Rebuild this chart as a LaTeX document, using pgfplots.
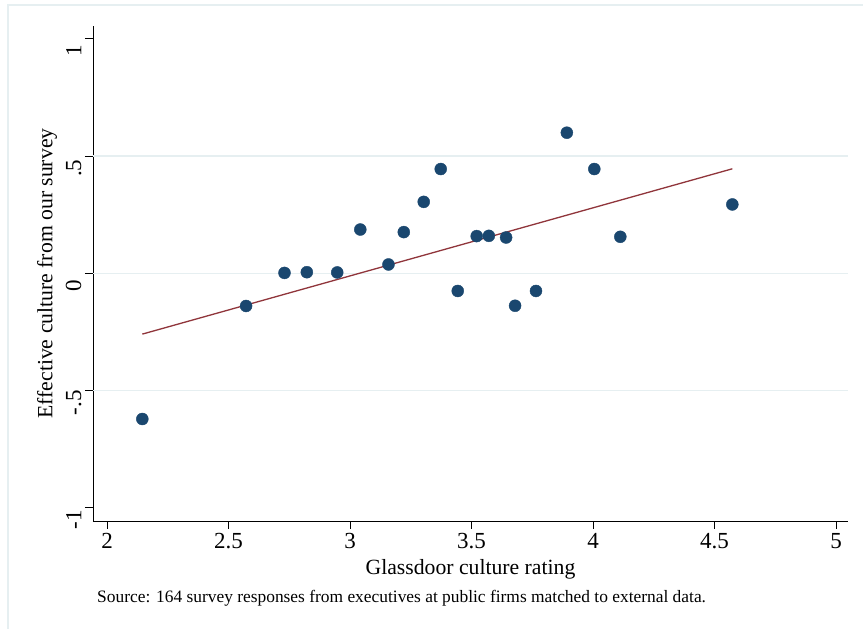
\documentclass[border=0pt]{standalone}
\usepackage{pgfplots}
\pgfplotsset{compat=1.18}
\usepackage{fontspec}
\setmainfont{Liberation Serif}
\definecolor{stnavy}{HTML}{1A476F}
\definecolor{stmaroon}{HTML}{90353B}
\definecolor{gridc}{HTML}{E6EFF1}
\begin{document}
\begin{tikzpicture}[x=1pt,y=1pt]
\useasboundingbox (0,0) rectangle (863,629);
\fill[white] (0,0) rectangle (863,629);
\draw[gridc, line width=1.2pt] (8,0) -- (8,624) -- (863,624);
\begin{axis}[
  at={(93pt,108pt)}, anchor=south west,
  scale only axis, width=755pt, height=495pt,
  xmin=1.942, xmax=5.049, ymin=-1.056, ymax=1.055,
  axis x line*=bottom, axis y line*=left,
  axis line style={black, line width=0.9pt},
  tick align=outside, major tick length=8pt,
  tick style={black, line width=0.9pt},
  xtick={2,2.5,3,3.5,4,4.5,5},
  xticklabels={2,2.5,3,3.5,4,4.5,5},
  ytick={-1,-0.5,0,0.5,1},
  yticklabels={-1,-.5,0,.5,1},
  ticklabel style={font=\fontsize{23}{25}\selectfont},
  yticklabel style={rotate=90, anchor=south, xshift=-12pt},
  xticklabel style={yshift=-1pt},
  xlabel={Glassdoor culture rating},
  ylabel={Effective culture from our survey},
  label style={font=\fontsize{21.7}{24}\selectfont},
  xlabel style={yshift=-3pt},
  ylabel style={yshift=2pt},
  clip=false,
]
\draw[gridc, line width=1.3pt] (axis cs:1.942,0.5) -- (axis cs:5.049,0.5);
\draw[gridc, line width=1.3pt] (axis cs:1.942,0) -- (axis cs:5.049,0);
\draw[gridc, line width=1.3pt] (axis cs:1.942,-0.5) -- (axis cs:5.049,-0.5);
\addplot[only marks, mark=*, mark size=6pt, stnavy, mark options={draw=stnavy, fill=stnavy}] coordinates {
(2.145,-0.621) (2.572,-0.139) (2.730,0.002) (2.822,0.005) (2.947,0.004)
(3.042,0.187) (3.158,0.038) (3.221,0.176) (3.303,0.305) (3.373,0.445)
(3.443,-0.075) (3.521,0.159) (3.571,0.160) (3.642,0.153) (3.679,-0.138)
(3.765,-0.075) (3.892,0.600) (4.005,0.445) (4.112,0.156) (4.573,0.294)
};
\addplot[stmaroon, line width=1.3pt, mark=none] coordinates {(2.145,-0.259) (4.573,0.446)};
\end{axis}
\node[anchor=base west, font=\fontsize{17.4}{20}\selectfont, inner sep=0pt] at (97,26) {Source: 164 survey responses from executives at public firms matched to external data.};
\end{tikzpicture}
\end{document}
